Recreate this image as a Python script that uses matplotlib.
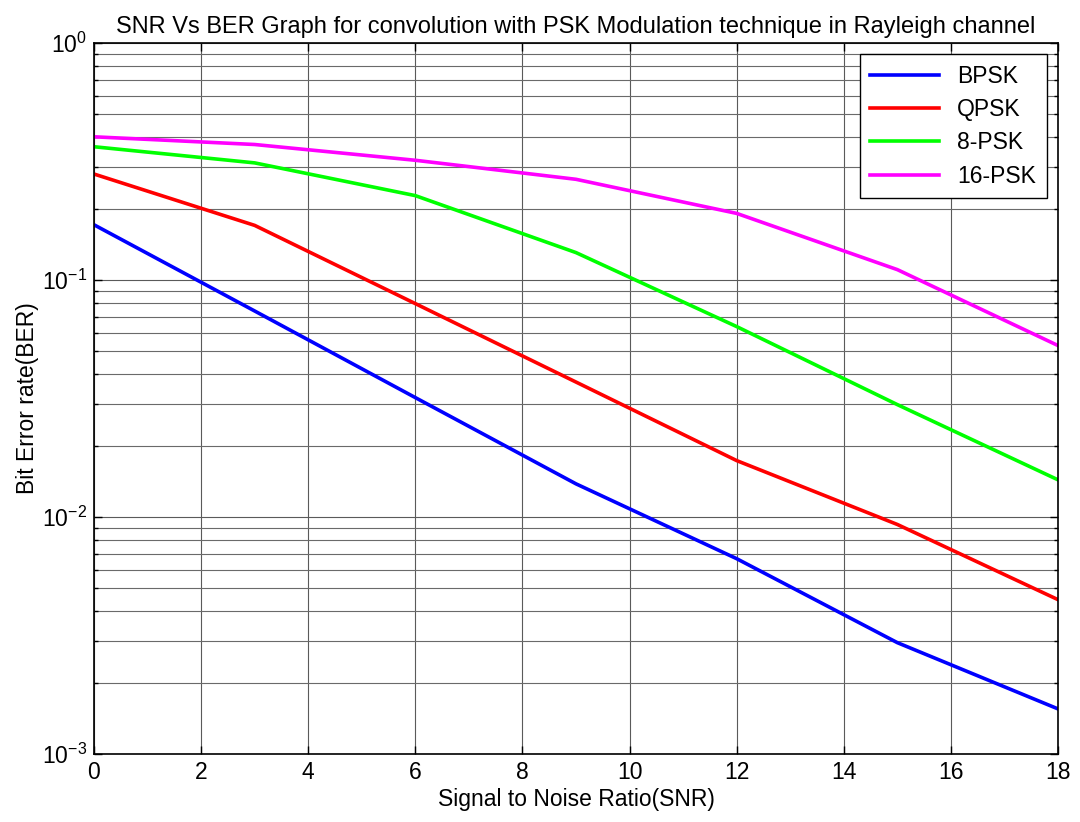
import matplotlib
matplotlib.use("Agg")
import matplotlib.pyplot as plt
from matplotlib.ticker import LogLocator, NullFormatter, MultipleLocator

snr = [0, 3, 6, 9, 12, 15, 18]
ber_bpsk = [0.171, 0.074, 0.0319, 0.0138, 0.00667, 0.00295, 0.00155]
ber_qpsk = [0.280, 0.170, 0.0795, 0.0371, 0.0173, 0.0093, 0.00448]
ber_8psk = [0.365, 0.312, 0.227, 0.1305, 0.0636, 0.0298, 0.01435]
ber_16psk = [0.402, 0.373, 0.320, 0.266, 0.191, 0.1106, 0.0529]
labels = ["BPSK", "QPSK", "8-PSK", "16-PSK"]
colors = ["#0000ff", "#ff0000", "#00ff00", "#ff00ff"]

plt.rcParams['font.family'] = ['Liberation Sans', 'DejaVu Sans']
plt.rcParams['axes.unicode_minus'] = False
FS = 16.5

fig = plt.figure(figsize=(10.8, 8.22), dpi=100)
ax = fig.add_axes([94/1080, 1-754/822, (1058-94)/1080, (754-43)/822])

for y, lab, c in zip([ber_bpsk, ber_qpsk, ber_8psk, ber_16psk], labels, colors):
    ax.plot(snr, y, color=c, lw=2.6, label=lab)

ax.set_yscale('log')
ax.set_xlim(0, 18)
ax.set_ylim(1e-3, 1)
ax.xaxis.set_major_locator(MultipleLocator(2))
ax.yaxis.set_major_locator(LogLocator(base=10, numticks=10))
ax.yaxis.set_minor_locator(LogLocator(base=10, subs=range(2, 10), numticks=20))
ax.yaxis.set_minor_formatter(NullFormatter())

ax.grid(True, which='major', color='#5a5a5a', lw=0.8)
ax.grid(True, which='minor', axis='y', color='#6a6a6a', lw=0.8)
ax.tick_params(which='both', direction='in', top=True, right=True, labelsize=FS)
ax.tick_params(which='major', length=6, width=1, pad=5)
ax.tick_params(which='minor', length=3, width=1)
for s in ax.spines.values():
    s.set_linewidth(1.2)

ax.set_title("SNR Vs BER Graph for convolution with PSK Modulation technique in Rayleigh channel",
             fontsize=17, pad=7)
ax.set_xlabel("Signal to Noise Ratio(SNR)", fontsize=FS, labelpad=3)
ax.set_ylabel("Bit Error rate(BER)", fontsize=FS, labelpad=2)

leg = ax.legend(loc='upper right', fontsize=FS, fancybox=False, framealpha=1,
                edgecolor='black', borderaxespad=0.5, handlelength=3.0,
                labelspacing=0.45, borderpad=0.45)
leg.get_frame().set_linewidth(1.0)

fig.savefig("out.png", dpi=100)
